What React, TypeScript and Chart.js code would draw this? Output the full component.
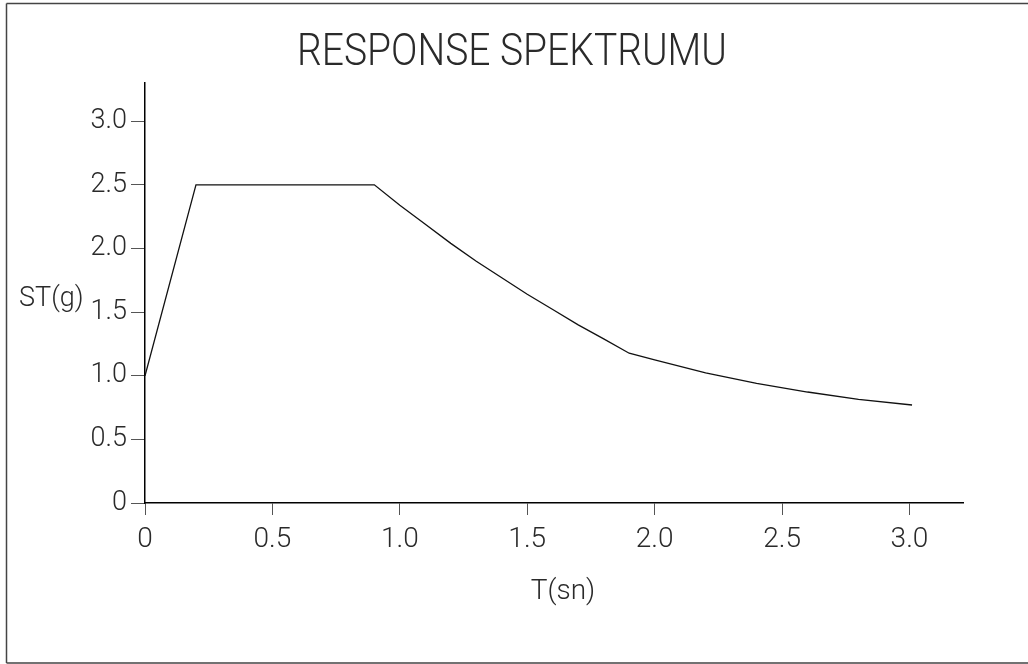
import React, { useEffect, useRef } from "react";
import { Chart, registerables } from "chart.js";

Chart.register(...registerables);

// Data
const periods = [0, 0.2, 0.9, 1.0, 1.1, 1.2, 1.3, 1.4, 1.5, 1.6, 1.7, 1.8, 1.9, 2.0, 2.2, 2.4, 2.6, 2.8, 3.01];
const spectrum = [1.0, 2.5, 2.5, 2.34, 2.19, 2.04, 1.9, 1.77, 1.64, 1.52, 1.4, 1.29, 1.177, 1.125, 1.022, 0.94, 0.872, 0.815, 0.77];
const xTicks = [0, 0.5, 1.0, 1.5, 2.0, 2.5, 3.0];
const yTicks = [0, 0.5, 1.0, 1.5, 2.0, 2.5, 3.0];
const titleText = "RESPONSE SPEKTRUMU";
const xTitle = "T(sn)";
const yTitle = "ST(g)";

const FONT = 'Roboto, "DejaVu Sans", sans-serif';
const TEXT = "#2a2a2a";
const fmt = (v: number) => (v === 0 ? "0" : v.toFixed(1));

const framePlugin = {
  id: "frame",
  beforeDraw(chart: any) {
    const ctx = chart.ctx;
    ctx.save();
    ctx.fillStyle = "#fff";
    ctx.fillRect(0, 0, chart.width, chart.height);
    ctx.strokeStyle = "#444";
    ctx.lineWidth = 1.5;
    ctx.beginPath();
    ctx.moveTo(6.5, 3.5);
    ctx.lineTo(chart.width, 3.5);
    ctx.moveTo(6.5, 3.5);
    ctx.lineTo(6.5, chart.height - 1);
    ctx.moveTo(6.5, chart.height - 1);
    ctx.lineTo(chart.width, chart.height - 1);
    ctx.stroke();
    ctx.restore();
  },
  afterDraw(chart: any) {
    const ctx = chart.ctx;
    const ys = chart.scales.y;
    const xs = chart.scales.x;
    ctx.save();
    ctx.fillStyle = TEXT;
    // main title, condensed horizontally like the plotter font
    ctx.font = `300 45px ${FONT}`;
    ctx.textAlign = "center";
    ctx.textBaseline = "alphabetic";
    const w = ctx.measureText(titleText).width;
    const sx = 430 / w;
    ctx.save();
    ctx.translate(512, 65);
    ctx.scale(sx, 1);
    ctx.fillText(titleText, 0, 0);
    ctx.restore();
    // y axis title (horizontal, left of the 1.5 tick)
    ctx.font = `300 27px ${FONT}`;
    ctx.textAlign = "left";
    ctx.fillText(yTitle, 19, ys.getPixelForValue(1.5) - 6);
    // x axis title
    ctx.font = `300 28px ${FONT}`;
    ctx.textAlign = "center";
    ctx.fillText(xTitle, (xs.left + xs.right) / 2 + 9, xs.bottom - 65);
    ctx.restore();
  },
};

export default function App() {
  const ref = useRef<HTMLCanvasElement | null>(null);
  useEffect(() => {
    document.body.style.margin = "0";
    if (!ref.current) return;
    const chart = new Chart(ref.current, {
      type: "line",
      data: {
        datasets: [
          {
            data: periods.map((t, i) => ({ x: t, y: spectrum[i] })),
            borderColor: "#111",
            borderWidth: 1.3,
            pointRadius: 0,
            tension: 0,
            fill: false,
          },
        ],
      },
      options: {
        responsive: false,
        animation: false,
        layout: { padding: { left: 0, right: 65, top: 83, bottom: 0 } },
        plugins: {
          legend: { display: false },
          tooltip: { enabled: false },
          title: { display: false },
        },
        scales: {
          x: {
            type: "linear",
            min: 0,
            max: 3.21,
            afterBuildTicks: (s: any) => {
              s.ticks = xTicks.map((v) => ({ value: v }));
            },
            afterFit: (s: any) => {
              s.height = 161;
            },
            grid: {
              drawOnChartArea: false,
              drawTicks: true,
              tickLength: 12,
              tickColor: "#555",
              tickWidth: 1,
            },
            border: { display: true, color: "#000", width: 1.5 },
            ticks: {
              color: TEXT,
              font: { family: FONT, size: 28, weight: "300" },
              padding: 8,
              maxRotation: 0,
              autoSkip: false,
              callback: (v: any) => fmt(Number(v)),
            },
          },
          y: {
            type: "linear",
            min: 0,
            max: 3.3,
            afterBuildTicks: (s: any) => {
              s.ticks = yTicks.map((v) => ({ value: v }));
            },
            afterFit: (s: any) => {
              s.width = 145;
            },
            grid: {
              drawOnChartArea: false,
              drawTicks: true,
              tickLength: 14,
              tickColor: "#555",
              tickWidth: 1,
            },
            border: { display: true, color: "#000", width: 1.5 },
            ticks: {
              color: TEXT,
              font: { family: FONT, size: 27, weight: "300" },
              padding: 4,
              autoSkip: false,
              callback: (v: any) => fmt(Number(v)),
            },
          },
        },
      },
      plugins: [framePlugin],
    });
    return () => chart.destroy();
  }, []);
  return (
    <div style={{ width: 1028, height: 664 }}>
      <canvas ref={ref} width={1028} height={664} />
    </div>
  );
}
